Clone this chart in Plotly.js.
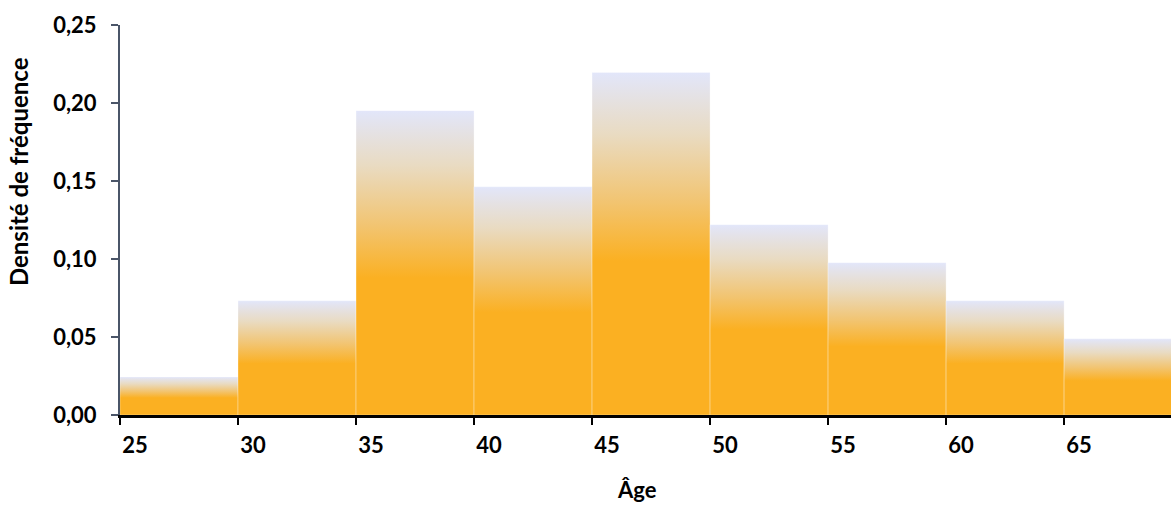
<!DOCTYPE html>
<html>
<head>
<meta charset="utf-8">
<script src="https://cdn.plot.ly/plotly-3.0.1.min.js"></script>
<style>html,body{margin:0;padding:0;background:#fff;}#chart{width:1171px;height:507px;}</style>
</head>
<body>
<div id="chart"></div>
<script>
// Data
const binStart = [25, 30, 35, 40, 45, 50, 55, 60, 65];
const binWidth = 5;
const density = [0.0244, 0.0732, 0.1951, 0.1463, 0.2195, 0.1220, 0.0976, 0.0732, 0.0488];
const xTickVals = [25, 30, 35, 40, 45, 50, 55, 60, 65];
const xTickText = ['25', '30', '35', '40', '45', '50', '55', '60', '65'];
const yTickVals = [0, 0.05, 0.10, 0.15, 0.20, 0.25];
const yTickText = ['0,00', '0,05', '0,10', '0,15', '0,20', '0,25'];
const xTitle = 'Âge';
const yTitle = 'Densité de fréquence';

const FONT = 'Lato, "Open Sans", sans-serif';
const gradient = [
  [0, '#fbb022'],
  [0.45, '#fbb022'],
  [0.62, '#f2c470'],
  [0.82, '#e9dbc2'],
  [1, '#e2e6fa']
];

const traces = binStart.map((s, i) => ({
  type: 'scatter',
  mode: 'lines',
  x: [s, s, s + binWidth, s + binWidth, s],
  y: [0, density[i], density[i], 0, 0],
  fill: 'toself',
  fillgradient: {type: 'vertical', colorscale: gradient},
  line: {color: 'rgba(255,255,255,0.3)', width: 1},
  hoverinfo: 'skip',
  showlegend: false
}));

const layout = {
  width: 1171,
  height: 507,
  margin: {l: 120, r: 0, t: 25, b: 92},
  paper_bgcolor: '#ffffff',
  plot_bgcolor: '#ffffff',
  font: {family: FONT, size: 22, color: '#000'},
  showlegend: false,
  xaxis: {
    range: [25, 69.53],
    tickvals: xTickVals,
    ticktext: xTickText,
    ticks: 'outside',
    ticklen: 7,
    tickwidth: 2,
    tickcolor: '#000',
    showline: true,
    linecolor: '#000',
    linewidth: 2.5,
    showgrid: false,
    zeroline: false,
    ticklabelposition: 'outside right',
    ticklabelstandoff: 9,
    tickfont: {family: FONT, size: 22, color: '#000', weight: 'bold'},
    fixedrange: true
  },
  yaxis: {
    range: [0, 0.25],
    tickvals: yTickVals,
    ticktext: yTickText,
    ticks: 'outside',
    ticklen: 7,
    tickwidth: 2,
    tickcolor: '#4a5568',
    showline: true,
    linecolor: '#4a5568',
    linewidth: 2,
    showgrid: false,
    zeroline: false,
    ticklabelstandoff: 10,
    tickfont: {family: FONT, size: 22, color: '#000', weight: 'bold'},
    fixedrange: true
  },
  annotations: [
    {
      text: yTitle, xref: 'paper', yref: 'paper', x: -0.097, y: 0.623,
      xanchor: 'center', yanchor: 'middle', textangle: -90, showarrow: false,
      font: {family: FONT, size: 24, color: '#000', weight: 'bold'}
    },
    {
      text: xTitle, xref: 'paper', yref: 'paper', x: 0.492, y: -0.19,
      xanchor: 'center', yanchor: 'middle', showarrow: false,
      font: {family: FONT, size: 22, color: '#000', weight: 'bold'}
    }
  ]
};

Plotly.newPlot('chart', traces, layout, {displayModeBar: false, staticPlot: true});
</script>
</body>
</html>
